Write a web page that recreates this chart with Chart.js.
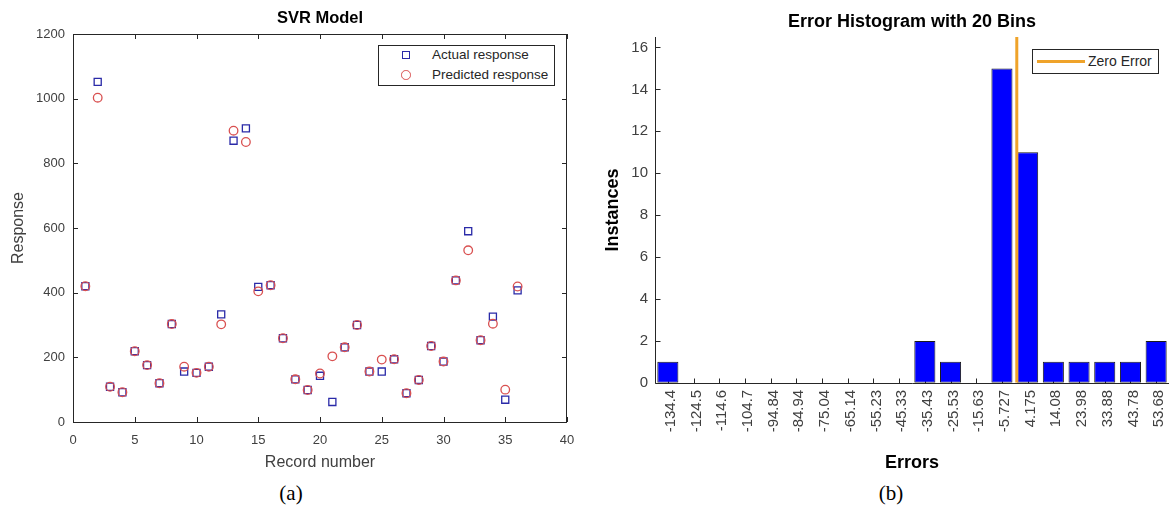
<!DOCTYPE html>
<html>
<head>
<meta charset="utf-8">
<script src="https://cdn.jsdelivr.net/npm/chart.js@4.4.1/dist/chart.umd.min.js"></script>
<style>
  html, body { margin:0; padding:0; background:#fff; overflow:hidden; width:1169px; height:506px; }
  .abs { position:absolute; }
  .txt { font-family:'Liberation Sans', Arial, Helvetica, sans-serif; color:#262626; white-space:nowrap; }
  .cap { font-family:'Liberation Serif', 'Times New Roman', serif; font-size:21px; color:#000; transform:translate(-50%,-50%); }
</style>
</head>
<body>
<div class="abs" style="left:0;top:0;width:590px;height:480px;"><canvas id="c1" width="590" height="480"></canvas></div>
<div class="abs" style="left:600px;top:0;width:569px;height:480px;"><canvas id="c2" width="569" height="480"></canvas></div>

<!-- legend (a) -->
<div class="abs" style="left:378px;top:45px;width:175px;height:39px;border:1px solid #262626;background:#fff;"></div>
<div class="abs" style="left:402px;top:51px;width:6px;height:6px;border:1.4px solid #2a2aa8;"></div>
<div class="abs" style="left:401px;top:70px;width:7.5px;height:7.5px;border:1.4px solid #d95050;border-radius:50%;"></div>
<div class="abs txt" style="left:432px;top:47px;font-size:13.5px;line-height:16px;">Actual response</div>
<div class="abs txt" style="left:432px;top:67px;font-size:13.5px;line-height:16px;">Predicted response</div>

<!-- legend (b) -->
<div class="abs" style="left:1032px;top:49px;width:125px;height:23px;border:1px solid #262626;background:#fff;"></div>
<div class="abs" style="left:1037px;top:59.5px;width:48px;height:3px;background:#EFA32A;"></div>
<div class="abs txt" style="left:1088px;top:53px;font-size:14px;line-height:16px;">Zero Error</div>

<div class="abs cap" style="left:291px;top:493px;">(a)</div>
<div class="abs cap" style="left:891px;top:493px;">(b)</div>

<script>
// ---------- data: (a) SVR model ----------
const recordNumbers = [1,2,3,4,5,6,7,8,9,10,11,12,13,14,15,16,17,18,19,20,21,22,23,24,25,26,27,28,29,30,31,32,33,34,35,36];
const actualResponse = [420,1052,109,92,219,176,120,303,156,152,171,333,870,908,418,423,259,132,99,143,62,231,300,156,156,194,89,130,235,187,438,590,253,326,69,407];
const predictedResponse = [420,1003,109,92,219,176,120,303,171,152,171,302,901,866,404,423,259,132,99,150,203,231,300,156,193,194,89,130,235,187,438,531,253,304,100,419];
const recordTicks = [0,5,10,15,20,25,30,35,40];
const responseTicks = [0,200,400,600,800,1000,1200];

// ---------- data: (b) error histogram ----------
const binLabels = ['-134.4','-124.5','-114.6','-104.7','-94.84','-84.94','-75.04','-65.14','-55.23','-45.33','-35.43','-25.53','-15.63','-5.727','4.175','14.08','23.98','33.88','43.78','53.68'];
const binCounts = [1,0,0,0,0,0,0,0,0,0,2,1,0,15,11,1,1,1,1,2];
const instanceTicks = [0,2,4,6,8,10,12,14,16];
const zeroErrorX = [0, 0];
const zeroErrorY = [0, 16.5];

const FONT = "'Liberation Sans', Arial, Helvetica, sans-serif";
const AX = '#262626';

// inward ticks + box for MATLAB-like axes
const boxPlugin = {
  id: 'boxPlugin',
  afterDraw(chart) {
    const {ctx, chartArea: a, scales} = chart;
    ctx.save();
    ctx.strokeStyle = AX; ctx.lineWidth = 1;
    ctx.strokeRect(Math.round(a.left)+0.5, Math.round(a.top)+0.5, Math.round(a.right-a.left)-1, Math.round(a.bottom-a.top));
    ctx.beginPath();
    scales.x.ticks.forEach(t => {
      const p = Math.round(scales.x.getPixelForValue(t.value)) + 0.5;
      ctx.moveTo(p, a.bottom); ctx.lineTo(p, a.bottom - 5);
      ctx.moveTo(p, a.top); ctx.lineTo(p, a.top + 5);
    });
    scales.y.ticks.forEach(t => {
      const p = Math.round(scales.y.getPixelForValue(t.value)) + 0.5;
      ctx.moveTo(a.left, p); ctx.lineTo(a.left + 5, p);
      ctx.moveTo(a.right, p); ctx.lineTo(a.right - 5, p);
    });
    ctx.stroke();
    ctx.restore();
  }
};

const axesPlugin = {
  id: 'axesPlugin',
  beforeDatasetsDraw(chart) {
    const {ctx, chartArea: a, scales} = chart;
    ctx.save();
    ctx.strokeStyle = AX; ctx.lineWidth = 1;
    ctx.beginPath();
    const l = Math.round(a.left) + 0.5, b = Math.round(a.bottom) + 0.5;
    ctx.moveTo(l, a.top); ctx.lineTo(l, b); ctx.lineTo(a.right, b);
    scales.x.ticks.forEach((t, i) => {
      const p = Math.round(scales.x.getPixelForTick(i)) + 0.5;
      ctx.moveTo(p, b); ctx.lineTo(p, b - 5);
    });
    scales.y.ticks.forEach(t => {
      const p = Math.round(scales.y.getPixelForValue(t.value)) + 0.5;
      ctx.moveTo(l, p); ctx.lineTo(l + 5, p);
    });
    ctx.stroke();
    ctx.restore();
  }
};

Chart.defaults.font.family = FONT;
Chart.defaults.color = AX;

const fixedTicks = arr => (s => { s.ticks = arr.map(v => ({ value: v })); });
const plain = v => String(v);

new Chart(document.getElementById('c1'), {
  type: 'scatter',
  data: {
    datasets: [
      { label: 'Predicted response', order: 0,
        data: recordNumbers.map((r, i) => ({x: r, y: predictedResponse[i]})),
        pointStyle: 'circle', pointRadius: 4.3, borderColor: '#d95050', backgroundColor: 'rgba(0,0,0,0)', borderWidth: 1.3 },
      { label: 'Actual response', order: 1,
        data: recordNumbers.map((r, i) => ({x: r, y: actualResponse[i]})),
        pointStyle: 'rect', pointRadius: 5, borderColor: '#2a2aa8', backgroundColor: 'rgba(0,0,0,0)', borderWidth: 1.3 }
    ]
  },
  options: {
    responsive: false, animation: false, devicePixelRatio: 1,
    layout: { padding: { left: 8.7, right: 23, top: 0, bottom: 7.7 } },
    plugins: {
      legend: { display: false }, tooltip: { enabled: false },
      title: { display: true, fullSize: false, text: 'SVR Model', color: '#000',
               font: { size: 16.5, weight: 'bold', family: FONT }, padding: { top: 9, bottom: 5.2 } }
    },
    scales: {
      x: { type: 'linear', min: recordTicks[0], max: recordTicks[recordTicks.length - 1],
           afterBuildTicks: fixedTicks(recordTicks),
           ticks: { padding: 10.5, font: { size: 13 }, color: '#404040', callback: plain },
           grid: { display: false, drawTicks: false }, border: { display: false },
           title: { display: true, text: 'Record number', font: { size: 16 }, color: '#404040', padding: { top: 0, bottom: 0 } },
           afterFit: s => { s.height = 50.3; } },
      y: { type: 'linear', min: responseTicks[0], max: responseTicks[responseTicks.length - 1],
           afterBuildTicks: fixedTicks(responseTicks),
           ticks: { padding: 8, font: { size: 13 }, color: '#404040', callback: plain },
           grid: { display: false, drawTicks: false }, border: { display: false },
           title: { display: true, text: 'Response', font: { size: 16 }, color: '#404040', padding: { top: 0, bottom: 0 } },
           afterFit: s => { s.width = 64.3; } }
    }
  },
  plugins: [boxPlugin]
});

const firstC = parseFloat(binLabels[0]), lastC = parseFloat(binLabels[binLabels.length - 1]);
const binW = (lastC - firstC) / (binLabels.length - 1);

new Chart(document.getElementById('c2'), {
  type: 'bar',
  data: {
    labels: binLabels,
    datasets: [
      { type: 'line', label: 'Zero Error', order: 0, xAxisID: 'x2', yAxisID: 'y',
        data: zeroErrorX.map((x, i) => ({x: x, y: zeroErrorY[i]})),
        borderColor: '#EFA32A', borderWidth: 3, pointRadius: 0, fill: false },
      { type: 'bar', label: 'Instances', order: 1, xAxisID: 'x', yAxisID: 'y',
        data: binCounts, grouped: false,
        backgroundColor: '#0000FF', borderColor: '#1a1a1a',
        borderWidth: c => (c.raw === 0 ? 0 : 1), borderSkipped: false,
        barPercentage: 0.82, categoryPercentage: 1.0 }
    ]
  },
  options: {
    responsive: false, animation: false, devicePixelRatio: 1,
    layout: { padding: { left: 2, right: 0, top: 0, bottom: 6.2 } },
    plugins: {
      legend: { display: false }, tooltip: { enabled: false },
      title: { display: true, fullSize: false, text: 'Error Histogram with 20 Bins', color: '#000',
               font: { size: 18, weight: 'bold', family: FONT }, padding: { top: 11.2, bottom: 4.2 } }
    },
    scales: {
      x: { type: 'category', offset: true,
           ticks: { autoSkip: false, minRotation: 90, maxRotation: 90, padding: 7, labelOffset: 3, font: { size: 15 }, color: '#404040' },
           grid: { display: false, drawTicks: false, offset: true }, border: { display: false },
           title: { display: true, text: 'Errors', color: '#000', font: { size: 18, weight: 'bold' }, padding: { top: 0, bottom: 0 } },
           afterFit: s => { s.height = 91; s.paddingLeft = 0; s.paddingRight = 0; } },
      x2: { type: 'linear', display: false, offset: false, grid: { offset: false },
            min: firstC - binW / 2, max: lastC + binW / 2 },
      y: { type: 'linear', min: 0, max: zeroErrorY[1],
           afterBuildTicks: fixedTicks(instanceTicks),
           ticks: { padding: 7, font: { size: 15 }, color: '#404040', callback: plain },
           grid: { display: false, drawTicks: false }, border: { display: false },
           title: { display: true, text: 'Instances', color: '#000', font: { size: 18, weight: 'bold' }, padding: { top: 0, bottom: 0 } },
           afterFit: s => { s.width = 53; } }
    }
  },
  plugins: [axesPlugin]
});
</script>
</body>
</html>
